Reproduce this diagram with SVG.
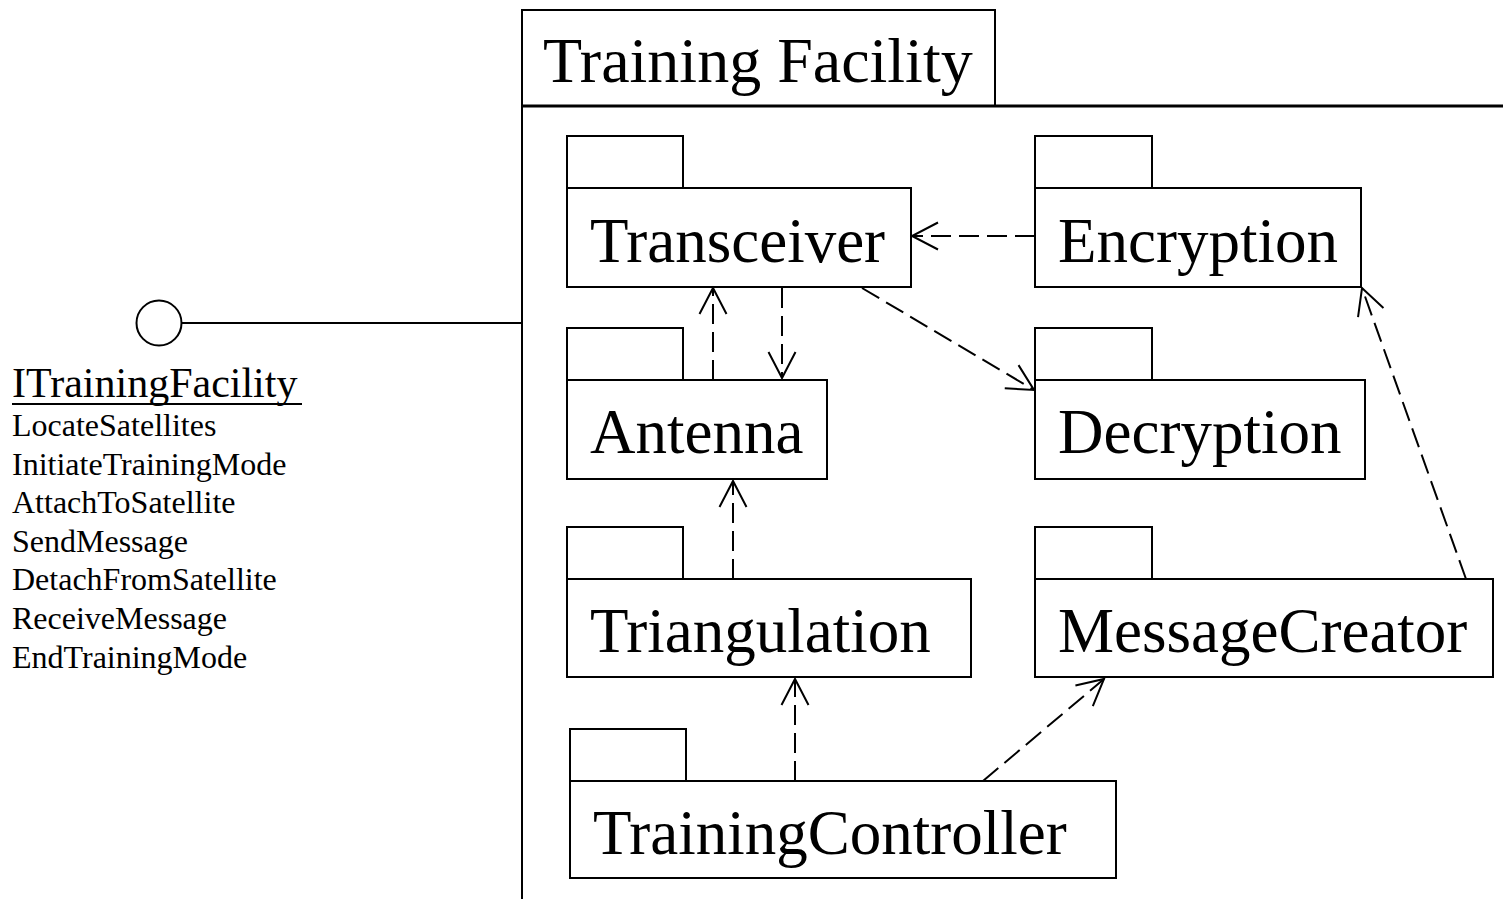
<svg xmlns="http://www.w3.org/2000/svg" width="1503" height="899" viewBox="0 0 1503 899">
  <style>
    .box { fill: #ffffff; stroke: #000000; stroke-width: 2; }
    .big { font-family: "Liberation Serif", "Times New Roman", serif; font-size: 63px; fill: #000000; }
    .title { font-family: "Liberation Serif", "Times New Roman", serif; font-size: 64px; fill: #000000; }
    .iface { font-family: "Liberation Serif", "Times New Roman", serif; font-size: 42px; fill: #000000; }
    .small { font-family: "Liberation Serif", "Times New Roman", serif; font-size: 32px; fill: #000000; }
    .dep { fill: none; stroke: #000000; stroke-width: 2; stroke-dasharray: 20 8; }
    .solid { fill: none; stroke: #000000; stroke-width: 2; }
  </style>
  <defs>
    <marker id="open" markerUnits="userSpaceOnUse" viewBox="-32 -18 36 36" refX="0" refY="0" markerWidth="36" markerHeight="36" orient="auto" overflow="visible">
      <path d="M -26 -13.5 L 0 0 L -26 13.5" fill="none" stroke="#000000" stroke-width="2" stroke-dasharray="none"/>
    </marker>
  </defs>
  <rect x="0" y="0" width="1503" height="899" fill="#ffffff"/>

  <g id="training-facility">
    <rect class="box" x="522" y="10" width="473" height="96"/>
    <line class="solid" x1="522" y1="10" x2="522" y2="899"/>
    <line x1="522" y1="106" x2="1503" y2="106" stroke="#000000" stroke-width="3"/>
    <text class="title" x="543" y="82">Training Facility</text>
  </g>

  <g id="itrainingfacility">
    <circle cx="159" cy="323" r="22.5" fill="#ffffff" stroke="#000000" stroke-width="2"/>
    <line class="solid" x1="181.5" y1="323" x2="522" y2="323"/>
    <text class="iface" x="12" y="397">ITrainingFacility</text>
    <line class="solid" x1="12" y1="404" x2="302" y2="404"/>
    <text class="small" x="12" y="436">LocateSatellites</text>
    <text class="small" x="12" y="475">InitiateTrainingMode</text>
    <text class="small" x="12" y="513">AttachToSatellite</text>
    <text class="small" x="12" y="552">SendMessage</text>
    <text class="small" x="12" y="590">DetachFromSatellite</text>
    <text class="small" x="12" y="629">ReceiveMessage</text>
    <text class="small" x="12" y="668">EndTrainingMode</text>
  </g>

  <g id="transceiver">
    <rect class="box" x="567" y="136" width="116" height="52"/>
    <rect class="box" x="567" y="188" width="344" height="99"/>
    <text class="big" x="590" y="262">Transceiver</text>
  </g>

  <g id="encryption">
    <rect class="box" x="1035" y="136" width="117" height="52"/>
    <rect class="box" x="1035" y="188" width="326" height="99"/>
    <text class="big" x="1058" y="262">Encryption</text>
  </g>

  <g id="antenna">
    <rect class="box" x="567" y="328" width="116" height="52"/>
    <rect class="box" x="567" y="380" width="260" height="99"/>
    <text class="big" x="590" y="453">Antenna</text>
  </g>

  <g id="decryption">
    <rect class="box" x="1035" y="328" width="117" height="52"/>
    <rect class="box" x="1035" y="380" width="330" height="99"/>
    <text class="big" x="1058" y="453">Decryption</text>
  </g>

  <g id="triangulation">
    <rect class="box" x="567" y="527" width="116" height="52"/>
    <rect class="box" x="567" y="579" width="404" height="98"/>
    <text class="big" x="590" y="652">Triangulation</text>
  </g>

  <g id="messagecreator">
    <rect class="box" x="1035" y="527" width="117" height="52"/>
    <rect class="box" x="1035" y="579" width="458" height="98"/>
    <text class="big" x="1058" y="652">MessageCreator</text>
  </g>

  <g id="trainingcontroller">
    <rect class="box" x="570" y="729" width="116" height="52"/>
    <rect class="box" x="570" y="781" width="546" height="97"/>
    <text class="big" x="593" y="854">TrainingController</text>
  </g>

  <g id="connectors">
    <line class="dep" x1="1035" y1="236" x2="912" y2="236" marker-end="url(#open)"/>
    <line class="dep" x1="713" y1="380" x2="713" y2="288" marker-end="url(#open)"/>
    <line class="dep" x1="782" y1="288" x2="782" y2="378" marker-end="url(#open)"/>
    <line class="dep" x1="862" y1="288" x2="1034" y2="390" marker-end="url(#open)"/>
    <line class="dep" x1="733" y1="579" x2="733" y2="481" marker-end="url(#open)"/>
    <line class="dep" x1="795" y1="781" x2="795" y2="679" marker-end="url(#open)"/>
    <line class="dep" x1="983" y1="781" x2="1104" y2="679" marker-end="url(#open)"/>
    <line class="dep" x1="1466" y1="579" x2="1362" y2="288" marker-end="url(#open)"/>
  </g>
</svg>
